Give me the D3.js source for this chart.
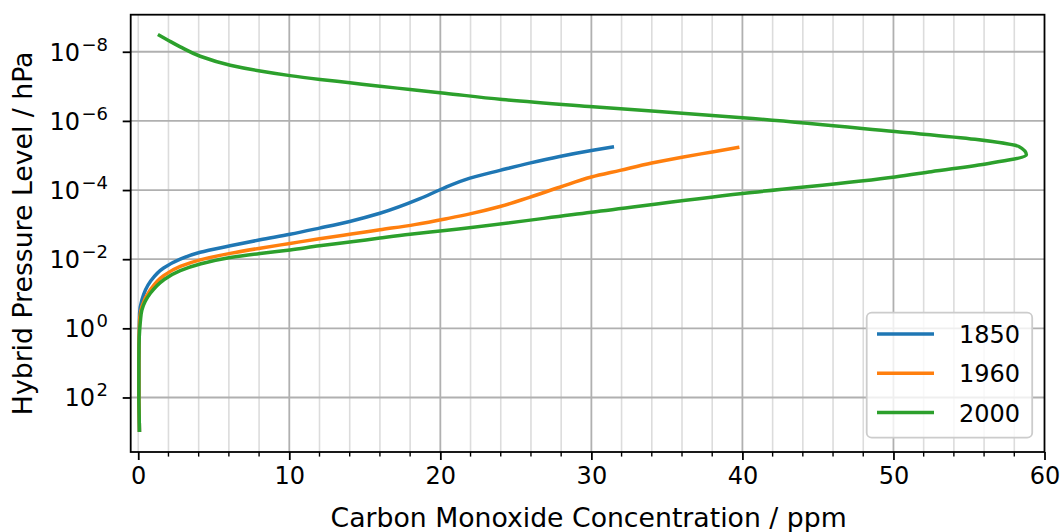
<!DOCTYPE html>
<html><head><meta charset="utf-8">
<script src="https://cdn.jsdelivr.net/npm/d3@7/dist/d3.min.js"></script>
<style>body{margin:0;background:#fff} text{font-family:"DejaVu Sans",sans-serif;fill:#000}</style>
</head><body><svg id="c" width="1063" height="532"></svg>
<script>
// ---- data ----
const seriesNames = ["1850", "1960", "2000"];
const seriesColors = ["#1f77b4", "#ff7f0e", "#2ca02c"];

// pressure levels (hPa) and CO concentration (ppm)
const p1850 = [5.6e-6, 7.2e-6, 1.07e-5, 1.66e-5, 2.7e-5, 4.5e-5, 9.8e-5, 1.78e-4, 4.7e-4, 8.1e-4, 1.26e-3, 1.9e-3, 2.75e-3, 4.1e-3, 6.3e-3, 1.0e-2, 1.8e-2, 4.5e-2, 0.151, 0.37, 1, 3.16, 10, 31.6, 100, 316, 1000];
const co1850 = [31.5, 30.0, 27.9, 25.9, 23.95, 21.96, 19.98, 18.65, 16.0, 14.0, 12.0, 10.05, 8.07, 6.09, 4.10, 2.78, 1.68, 0.79, 0.24, 0.09, 0.07, 0.05, 0.04, 0.04, 0.04, 0.06, 0.08];

const p1960 = [5.75e-6, 7.9e-6, 1.12e-5, 1.66e-5, 2.7e-5, 4.2e-5, 8.3e-5, 1.62e-4, 3.0e-4, 4.9e-4, 6.5e-4, 1.0e-3, 1.41e-3, 1.9e-3, 2.57e-3, 3.5e-3, 4.8e-3, 6.8e-3, 1.05e-2, 1.62e-2, 3.0e-2, 7.8e-2, 0.234, 0.5, 1, 3.16, 10, 31.6, 100, 316, 1000];
const co1960 = [39.8, 38.0, 36.0, 34.0, 31.9, 30.0, 27.9, 25.9, 23.95, 21.96, 20.6, 18.3, 16.0, 14.0, 12.0, 10.05, 8.07, 6.09, 4.10, 2.78, 1.68, 0.79, 0.24, 0.10, 0.07, 0.05, 0.04, 0.04, 0.04, 0.06, 0.08];

const p2000 = [3.16e-9, 4.7e-9, 7.2e-9, 1.35e-8, 2.45e-8, 3.6e-8, 4.9e-8, 6.3e-8, 7.9e-8, 1.0e-7, 1.23e-7, 1.58e-7, 2.4e-7, 3.9e-7, 8.1e-7, 2.04e-6, 3.4e-6, 5.5e-6, 9.5e-6, 1.7e-5, 2.95e-5, 4.2e-5, 1.26e-4, 4.4e-4, 1.48e-3, 1.9e-3, 2.45e-3, 3.2e-3, 4.1e-3, 5.4e-3, 6.8e-3, 8.9e-3, 1.38e-2, 2.14e-2, 3.98e-2, 9.8e-2, 0.295, 0.63, 1, 3.16, 10, 31.6, 100, 316, 1000];
const co2000 = [1.3, 2.0, 2.78, 4.10, 6.09, 8.07, 10.05, 12.04, 14.02, 16.0, 18.0, 20.3, 24.1, 30.1, 40.0, 50.1, 55.4, 58.3, 58.8, 56.3, 52.5, 50.1, 40.0, 30.0, 20.3, 18.0, 16.0, 14.0, 12.0, 10.05, 8.07, 6.09, 4.10, 2.78, 1.68, 0.79, 0.24, 0.14, 0.10, 0.05, 0.04, 0.04, 0.04, 0.06, 0.08];

const xTicks = [0, 10, 20, 30, 40, 50, 60];
const xMinorTicks = [0, 2, 4, 6, 8, 12, 14, 16, 18, 22, 24, 26, 28, 32, 34, 36, 38, 42, 44, 46, 48, 52, 54, 56, 58];
const yTicks = [1e-8, 1e-6, 1e-4, 1e-2, 1, 1e2];
const yTickExps = ["\u22128", "\u22126", "\u22124", "\u22122", "0", "2"];
const xLabel = "Carbon Monoxide Concentration / ppm";
const yLabel = "Hybrid Pressure Level / hPa";

// ---- layout ----
const L = 130.7, R = 1044.5, T = 14.7, B = 452;
const svg = d3.select("#c");
const x = d3.scaleLinear().domain([-0.5, 60]).range([L, R]);
const y = d3.scaleLog().domain([Math.pow(10, -9.072), Math.pow(10, 3.577)]).range([T, B]);

const series = seriesNames.map((name, i) => {
  const ps = [p1850, p1960, p2000][i], vs = [co1850, co1960, co2000][i];
  return { name, color: seriesColors[i], values: ps.map((p, j) => ({ p, v: vs[j] })) };
});

// grid
const grid = svg.append("g");
grid.selectAll(".xmin").data(xMinorTicks).join("line")
  .attr("x1", d => x(d)).attr("x2", d => x(d)).attr("y1", T).attr("y2", B)
  .attr("stroke", "#dcdcdc").attr("stroke-width", 1.6);
grid.selectAll(".xmaj").data(xTicks.filter(d => d !== 0 && d !== 60)).join("line")
  .attr("x1", d => x(d)).attr("x2", d => x(d)).attr("y1", T).attr("y2", B)
  .attr("stroke", "#b0b0b0").attr("stroke-width", 1.8);
grid.selectAll(".ymaj").data(yTicks).join("line")
  .attr("x1", L).attr("x2", R).attr("y1", d => y(d)).attr("y2", d => y(d))
  .attr("stroke", "#b0b0b0").attr("stroke-width", 1.8);

// lines
const line = d3.line().x(d => x(d.v)).y(d => y(d.p)).curve(d3.curveMonotoneY);
svg.append("clipPath").attr("id", "clp").append("rect")
  .attr("x", L).attr("y", T).attr("width", R - L).attr("height", B - T);
svg.append("g").attr("clip-path", "url(#clp)").selectAll("path").data(series).join("path")
  .attr("d", d => line(d.values)).attr("fill", "none")
  .attr("stroke", d => d.color).attr("stroke-width", 3.5)
  .attr("stroke-linejoin", "round").attr("stroke-linecap", "butt");

// axes
const xAxis = svg.append("g").attr("transform", `translate(0,${B})`)
  .call(d3.axisBottom(x).tickValues(xTicks).tickSize(8).tickPadding(7).tickFormat(d3.format("d")));
xAxis.select(".domain").remove();
xAxis.selectAll(".tick line").attr("stroke", "#000").attr("stroke-width", 1.8);
xAxis.selectAll(".tick text").attr("font-size", 24).attr("font-family", "DejaVu Sans").attr("fill", "#000");
svg.append("g").selectAll("line").data(xMinorTicks.filter(d => d !== 0)).join("line")
  .attr("x1", d => x(d)).attr("x2", d => x(d)).attr("y1", B).attr("y2", B + 4.6)
  .attr("stroke", "#000").attr("stroke-width", 1.4);

const yAxis = svg.append("g").attr("transform", `translate(${L},0)`)
  .call(d3.axisLeft(y).tickValues(yTicks).tickSize(8).tickFormat(""));
yAxis.select(".domain").remove();
yAxis.selectAll(".tick line").attr("stroke", "#000").attr("stroke-width", 1.8);
const ylab = svg.append("g").selectAll("text").data(yTicks).join("text")
  .attr("x", 108).attr("y", d => y(d) + 9).attr("text-anchor", "end").attr("font-size", 24);
ylab.append("tspan").text("10");
ylab.append("tspan").attr("dy", -10).attr("dx", 1.5).attr("font-size", 18).text((d, i) => yTickExps[i]);

// spines
svg.append("rect").attr("x", L).attr("y", T).attr("width", R - L).attr("height", B - T)
  .attr("fill", "none").attr("stroke", "#000").attr("stroke-width", 1.8);

// axis labels
svg.append("text").attr("x", (L + R) / 2 + 1).attr("y", 527).attr("text-anchor", "middle")
  .attr("font-size", 26.7).text(xLabel);
svg.append("text").attr("transform", `translate(32,${(T + B) / 2}) rotate(-90)`)
  .attr("text-anchor", "middle").attr("font-size", 26.7).text(yLabel);

// legend
const lg = svg.append("g");
lg.append("rect").attr("x", 866.7).attr("y", 312.7).attr("width", 165.5).attr("height", 125)
  .attr("rx", 5).attr("fill", "#fff").attr("fill-opacity", 0.8)
  .attr("stroke", "#cccccc").attr("stroke-width", 1.8);
const items = lg.selectAll("g.it").data(series).join("g")
  .attr("transform", (d, i) => `translate(0,${334 + i * 39.3})`);
items.append("line").attr("x1", 877).attr("x2", 934).attr("y1", 0).attr("y2", 0)
  .attr("stroke", d => d.color).attr("stroke-width", 3.5);
items.append("text").attr("x", 959).attr("y", 9).attr("font-size", 24).text(d => d.name);
</script></body></html>
